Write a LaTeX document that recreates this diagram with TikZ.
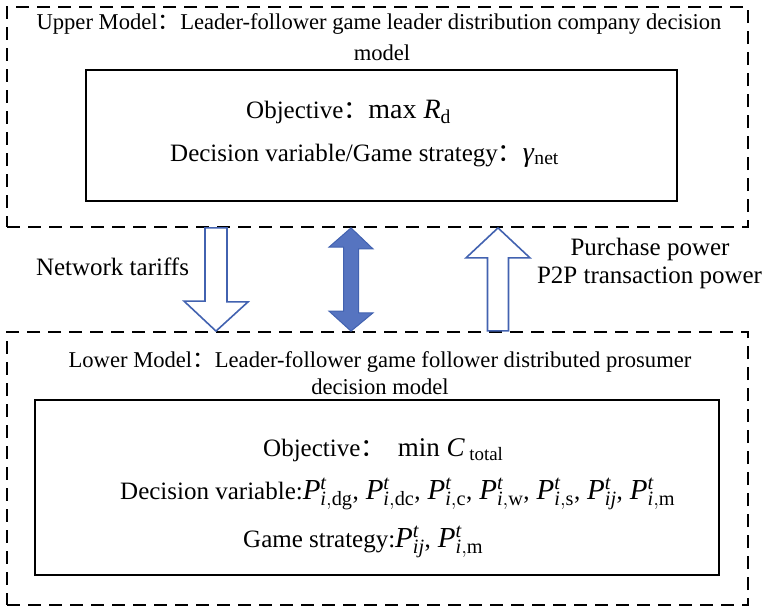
\documentclass[tikz,border=0pt]{standalone}
\usepackage{fontspec}
\setmainfont{Liberation Serif}
\newfontfamily\cjk{Noto Sans CJK SC}
\usetikzlibrary{positioning}
\definecolor{arrline}{RGB}{66,98,176}
\definecolor{arrfill}{RGB}{86,116,192}
\newcommand{\fcolon}{{\cjk ：}}
\newcommand{\mathpart}[1]{{\fontsize{28}{30}\selectfont #1}}
\newcommand{\Pit}[1]{{\fontsize{29}{30}\selectfont$\mathit{P}^{\mathit{t}}_{#1}$}}

\begin{document}
\begin{tikzpicture}[x=1pt,y=-1pt,
      dashbox/.style={draw=black, line width=1.8pt, dash pattern=on 13pt off 8pt, minimum width=741pt},
      solidbox/.style={draw=black, line width=1.8pt},
      title/.style={inner sep=0pt, anchor=base, font=\fontsize{22.6}{26}\selectfont},
      body/.style={inner sep=0pt, anchor=base west, font=\fontsize{25}{28}\selectfont},
      side/.style={inner sep=0pt, anchor=base, font=\fontsize{25}{28}\selectfont},
      hollow/.style={draw=arrline, line width=1.6pt, fill=white, line join=miter},
      filled/.style={draw=arrline, line width=1pt, fill=arrfill, line join=miter}
      ]
      \useasboundingbox (0,0) rectangle (766,608);
      % upper level
      \node[dashbox, minimum height=220pt] (upper) at (377.5,117) {};
      \node[solidbox, minimum width=591pt, minimum height=131pt] (upperin) at (381.5,135.5) {};
      \node[title] (uptitle) at (379,29) {Upper Model\fcolon Leader-follower game leader distribution company decision};
      \node[title] (upmodel) at (382,60) {model};
      \node[body] (upobj) at (246,118) {Objective\fcolon\mathpart{max \textit{R}\textsubscript{d}}};
      \node[body] (upvar) at (170,161) {Decision variable/Game strategy\fcolon\mathpart{\textit{γ}\textsubscript{net}}};
      % lower level
      \node[dashbox, minimum height=273pt] (lower) at (377.5,468.5) {};
      \node[solidbox, minimum width=684pt, minimum height=175pt] (lowerin) at (377,487.5) {};
      \node[title] (lowtitle) at (380,367) {Lower Model\fcolon Leader-follower game follower distributed prosumer};
      \node[title] (lowmodel) at (380,394) {decision model};
      \node[body] (lowobj) at (263,456) {Objective\fcolon\ \ {\fontsize{27}{30}\selectfont min \textit{C}\,\textsubscript{total}}};
      \node[body] (lowvar) at (120,499) {Decision variable:\Pit{\mathit{i},\mathrm{dg}},\;\Pit{\mathit{i},\mathrm{dc}},\;\Pit{\mathit{i},\mathrm{c}},\;\Pit{\mathit{i},\mathrm{w}},\;\Pit{\mathit{i},\mathrm{s}},\;\Pit{\mathit{ij}},\;\Pit{\mathit{i},\mathrm{m}}};
      \node[body] (lowgame) at (243,547) {Game strategy:\Pit{\mathit{ij}},\;\Pit{\mathit{i},\mathrm{m}}};
      % exchanged quantities
      \node[side] (tariff) at (112.5,275) {Network tariffs};
      \node[side] (buy) at (650,255) {Purchase power};
      \node[side] (p2p) at (649.5,283) {P2P transaction power};
      % block arrows between the levels
      \coordinate (dtop) at (upper.south -| 216,0);
      \coordinate (dtip) at (lower.north -| 216,0);
      \draw[hollow] (dtop) ++(-11,0) -- ++(22,0) -- ++(0,74) -- ++(21,0) -- (dtip) -- ++(-32,-30) -- ++(21,0) -- cycle;
      \coordinate (btop) at (upper.south -| 351,0);
      \coordinate (bbot) at (lower.north -| 351,0);
      \draw[filled] (btop) -- ++(22,21) -- ++(-14.5,0) -- ++(0,64) -- ++(14.5,0) -- (bbot) -- ++(-22,-20) -- ++(14.5,0) -- ++(0,-64) -- ++(-14.5,0) -- cycle;
      \coordinate (utip) at (upper.south -| 498,0);
      \draw[hollow] (utip) -- ++(32,30) -- ++(-21.5,0) -- ++(0,73) -- ++(-21,0) -- ++(0,-73) -- ++(-21.5,0) -- cycle;
    \end{tikzpicture}
\end{document}
